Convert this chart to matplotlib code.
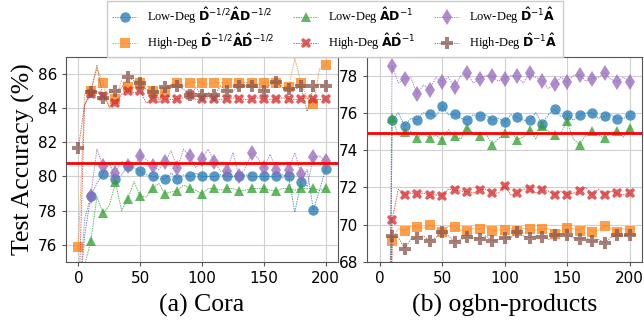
import numpy as np
import matplotlib
matplotlib.use('Agg')
import matplotlib.pyplot as plt

# epochs where markers sit, and the epochs in between
epochs_mark = list(range(0, 201, 10))
epochs_mid = list(range(5, 200, 10))

# ---- Cora ----
cora_low_sym = [72.0, 78.85, 80.15, 79.85, 80.6, 80.3, 80.0, 79.85, 79.85, 80.0, 80.0,
                80.0, 80.0, 80.0, 80.0, 80.0, 80.0, 80.0, 79.7, 78.05, 80.45]
cora_low_sym_mid = [76.5, 79.6, 80.8, 80.1, 80.5, 80.1, 79.9, 80.2, 80.1, 80.2,
                    80.0, 80.1, 80.0, 80.1, 80.0, 80.0, 80.1, 77.9, 80.4, 79.2]
cora_high_sym = [75.9, 85.0, 85.5, 84.55, 85.25, 85.5, 85.0, 84.95, 85.5, 85.5, 85.5,
                 85.5, 85.5, 85.5, 85.5, 85.5, 85.5, 85.25, 85.5, 84.25, 86.55]
cora_high_sym_mid = [84.8, 86.3, 84.0, 85.6, 85.2, 85.3, 84.5, 85.4, 85.3, 85.5,
                     85.4, 85.5, 85.3, 85.5, 85.4, 85.5, 85.3, 86.9, 84.6, 86.3]
cora_low_rw = [70.0, 76.2, 77.85, 79.65, 78.7, 78.85, 79.3, 79.0, 79.15, 79.3, 79.0,
               79.3, 79.3, 79.15, 79.3, 79.3, 79.15, 79.3, 79.3, 79.3, 79.3]
cora_low_rw_mid = [74.8, 78.8, 78.3, 78.0, 79.7, 78.8, 79.6, 79.1, 79.5, 79.2,
                   79.3, 79.2, 79.3, 79.2, 79.3, 79.2, 79.3, 79.2, 79.3, 79.2]
cora_high_rw = [72.0, 84.8, 84.7, 84.3, 85.0, 85.0, 84.55, 84.55, 84.55, 84.75, 84.55,
                84.55, 84.55, 84.55, 84.55, 84.55, 84.55, 84.55, 84.55, 84.55, 84.55]
cora_high_rw_mid = [84.2, 85.0, 84.1, 84.8, 84.9, 84.3, 84.6, 84.5, 84.6, 84.5,
                    84.6, 84.5, 84.6, 84.5, 84.6, 84.5, 84.6, 84.5, 84.6, 84.5]
cora_low_lrw = [72.0, 78.85, 80.6, 80.2, 80.6, 81.2, 80.6, 80.85, 80.5, 81.2, 81.05,
                80.85, 80.35, 80.0, 81.35, 80.5, 80.38, 80.38, 80.15, 81.15, 80.9]
cora_low_lrw_mid = [77.5, 81.6, 80.0, 80.9, 80.6, 81.0, 80.4, 81.5, 81.6, 80.5,
                    81.6, 80.3, 81.4, 80.5, 81.1, 81.3, 79.9, 81.4, 79.4, 81.2]
cora_high_lrw = [81.65, 84.95, 84.6, 85.0, 85.8, 85.5, 84.95, 85.25, 85.3, 84.78, 84.75,
                 84.75, 85.0, 85.27, 85.27, 85.0, 85.55, 85.15, 85.27, 85.27, 85.27]
cora_high_lrw_mid = [84.2, 86.5, 84.9, 85.2, 85.6, 85.1, 84.3, 85.3, 85.1, 85.2,
                     84.9, 85.3, 85.0, 85.3, 85.2, 85.4, 85.2, 85.1, 83.8, 85.4]
cora_ref = 80.8

# ---- ogbn-products ----
prod_low_sym = [10.0, 75.6, 75.28, 75.63, 75.93, 76.38, 75.93, 75.63, 75.81, 75.6, 75.51,
                75.76, 75.6, 75.4, 76.2, 75.9, 75.86, 75.99, 75.81, 75.68, 75.86]
prod_low_sym_mid = [40.0, 76.0, 75.7, 76.0, 75.8, 75.9, 75.7, 75.9, 75.9, 75.7,
                    75.9, 75.6, 76.0, 75.9, 75.8, 75.6, 76.0, 75.7, 75.9, 75.7]
prod_high_sym = [10.0, 69.13, 69.67, 69.88, 69.99, 69.63, 69.88, 69.67, 69.76, 69.67, 69.72,
                 69.67, 69.76, 69.76, 69.49, 69.81, 69.67, 69.63, 69.93, 69.58, 69.67]
prod_high_sym_mid = [40.0, 69.8, 69.9, 69.8, 69.8, 69.9, 69.7, 69.8, 69.9, 69.7,
                     69.8, 69.8, 69.7, 69.8, 69.7, 69.8, 69.9, 69.7, 69.8, 69.8]
prod_low_rw = [10.0, 75.72, 74.95, 74.65, 74.65, 74.56, 74.74, 75.19, 74.78, 74.3, 74.92,
               74.56, 75.1, 75.31, 74.83, 75.54, 74.3, 75.0, 74.65, 75.04, 75.19]
prod_low_rw_mid = [40.0, 74.8, 75.0, 74.9, 74.8, 75.1, 74.6, 74.9, 74.9, 74.6,
                   75.0, 74.7, 74.6, 75.0, 74.9, 74.6, 74.8, 74.8, 74.9, 74.7]
prod_high_rw = [10.0, 70.25, 71.59, 71.62, 71.59, 71.54, 71.86, 71.77, 71.86, 71.68, 72.07,
                71.68, 71.93, 71.86, 71.59, 71.59, 71.8, 71.59, 71.59, 71.68, 71.71]
prod_high_rw_mid = [40.0, 71.9, 71.7, 71.7, 71.6, 71.9, 71.8, 71.7, 71.9, 71.7,
                    71.6, 71.9, 71.7, 71.8, 71.8, 71.7, 72.0, 71.9, 71.8, 71.6]
prod_low_lrw = [10.0, 78.52, 77.82, 77.0, 77.23, 77.68, 77.38, 78.12, 77.82, 77.95, 77.82,
                77.95, 78.12, 77.72, 77.55, 77.64, 78.04, 77.82, 78.12, 77.68, 77.68]
prod_low_lrw_mid = [40.0, 77.6, 77.9, 77.5, 77.9, 77.9, 78.0, 77.6, 78.0, 77.7,
                    78.0, 77.6, 77.9, 77.3, 77.9, 78.0, 77.7, 77.9, 77.8, 77.9]
prod_high_lrw = [10.0, 69.4, 68.72, 69.31, 69.13, 69.61, 69.08, 69.35, 69.22, 69.13, 69.31,
                 69.61, 69.31, 69.36, 69.43, 69.43, 69.22, 69.1, 69.04, 69.43, 69.43]
prod_high_lrw_mid = [40.0, 69.3, 69.2, 69.4, 69.3, 69.4, 69.2, 69.3, 69.4, 69.2,
                     69.3, 69.4, 69.4, 69.2, 69.5, 69.3, 69.3, 69.2, 69.3, 69.4]
prod_ref = 74.93

labels = [r'Low-Deg $\mathbf{\hat{D}}^{-1/2}\mathbf{\hat{A}D}^{-1/2}$',
          r'High-Deg $\mathbf{\hat{D}}^{-1/2}\mathbf{\hat{A}\hat{D}}^{-1/2}$',
          r'Low-Deg $\mathbf{\hat{A}D}^{-1}$',
          r'High-Deg $\mathbf{\hat{A}\hat{D}}^{-1}$',
          r'Low-Deg $\mathbf{\hat{D}}^{-1}\mathbf{\hat{A}}$',
          r'High-Deg $\mathbf{\hat{D}}^{-1}\mathbf{\hat{A}}$']
colors = ['tab:blue', 'tab:orange', 'tab:green', 'tab:red', 'tab:purple', 'tab:brown']
markers = ['o', 's', '^', 'X', 'd', 'P']
msizes = [7.5, 7, 7.5, 7.5, 8, 8]

cora = [(cora_low_sym, cora_low_sym_mid), (cora_high_sym, cora_high_sym_mid),
        (cora_low_rw, cora_low_rw_mid), (cora_high_rw, cora_high_rw_mid),
        (cora_low_lrw, cora_low_lrw_mid), (cora_high_lrw, cora_high_lrw_mid)]
prod = [(prod_low_sym, prod_low_sym_mid), (prod_high_sym, prod_high_sym_mid),
        (prod_low_rw, prod_low_rw_mid), (prod_high_rw, prod_high_rw_mid),
        (prod_low_lrw, prod_low_lrw_mid), (prod_high_lrw, prod_high_lrw_mid)]


def merge(mark, mid):
    # put marker epochs and in-between epochs together in order
    x = np.array(epochs_mark + epochs_mid)
    y = np.array(mark + mid)
    order = np.argsort(x)
    return x[order], y[order]


fig = plt.figure(figsize=(6.44, 3.27), dpi=100)
ax1 = fig.add_axes([0.1025, 0.199, 0.4225, 0.627])
ax2 = fig.add_axes([0.570, 0.199, 0.427, 0.627])

for ax, data, ref in [(ax1, cora, cora_ref), (ax2, prod, prod_ref)]:
    for i, (mark, mid) in enumerate(data):
        x, y = merge(mark, mid)
        ax.plot(x, y, linestyle=(0, (1.5, 1)), linewidth=0.7, color=colors[i],
                alpha=0.75, marker=markers[i], markersize=msizes[i], markevery=2,
                markeredgewidth=0, label=labels[i])
    ax.axhline(ref, color='red', linewidth=2)
    ax.grid(True, color='#d0d0d0', linewidth=0.8)
    ax.set_axisbelow(True)
    ax.tick_params(labelsize=11, length=3, color='#555555')
    for s in ax.spines.values():
        s.set_color('#555555')
    ax.set_xticks([0, 50, 100, 150, 200])
    ax.set_xlim(-10, 210)

ax1.set_ylim(75, 87)
ax1.set_yticks([76, 78, 80, 82, 84, 86])
ax2.set_ylim(68, 79)
ax2.set_yticks([68, 70, 72, 74, 76, 78])

ax1.set_ylabel('Test Accuracy (%)', family='Liberation Serif', fontsize=18.5, labelpad=2)
ax1.set_xlabel('(a) Cora', family='Liberation Serif', fontsize=18.5, labelpad=6)
ax2.set_xlabel('(b) ogbn-products', family='Liberation Serif', fontsize=18.5, labelpad=6)

handles, labs = ax1.get_legend_handles_labels()
fig.legend(handles, labs, loc='upper center', bbox_to_anchor=(335 / 644, 1.0), ncol=3,
           prop={'family': 'Liberation Serif', 'size': 9}, labelspacing=0.45,
           borderaxespad=0.1, borderpad=0.4, columnspacing=1.5, handlelength=2.0,
           framealpha=1, edgecolor='#cccccc', fancybox=False)

plt.savefig('out.png', dpi=100)
